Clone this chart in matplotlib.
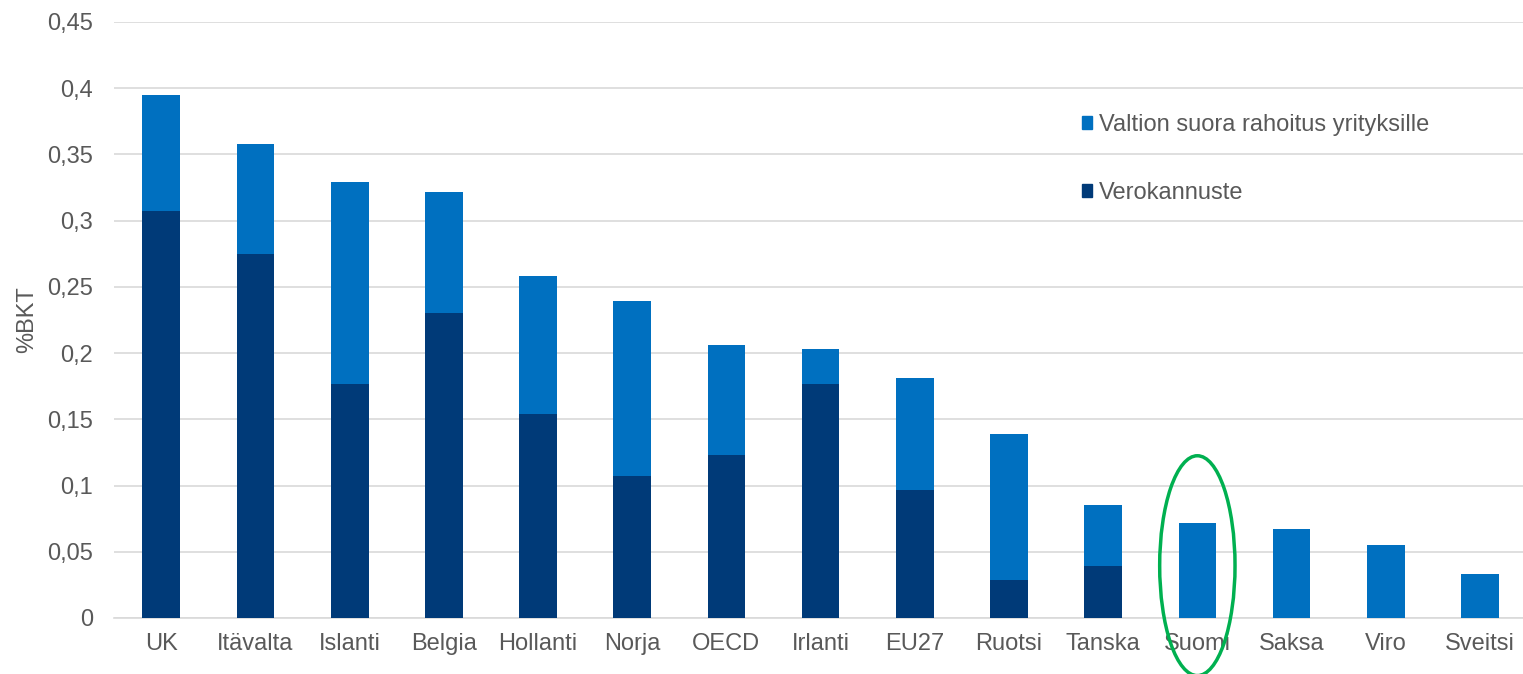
import matplotlib
matplotlib.use("Agg")
import matplotlib.pyplot as plt
from matplotlib.patches import Ellipse, Patch
import numpy as np

plt.rcParams['font.family'] = ['Liberation Sans', 'DejaVu Sans']

categories = ["UK", "Itävalta", "Islanti", "Belgia", "Hollanti", "Norja", "OECD",
              "Irlanti", "EU27", "Ruotsi", "Tanska", "Suomi", "Saksa", "Viro", "Sveitsi"]
verokannuste = [0.307, 0.275, 0.177, 0.230, 0.154, 0.107, 0.123,
                0.177, 0.097, 0.029, 0.039, 0.0, 0.0, 0.0, 0.0]
totals = [0.395, 0.358, 0.329, 0.322, 0.258, 0.239, 0.206,
          0.203, 0.181, 0.139, 0.085, 0.072, 0.067, 0.055, 0.033]
suora = [t - v for t, v in zip(totals, verokannuste)]
yticks = [0, 0.05, 0.1, 0.15, 0.2, 0.25, 0.3, 0.35, 0.4, 0.45]
ytick_labels = ["0", "0,05", "0,1", "0,15", "0,2", "0,25", "0,3", "0,35", "0,4", "0,45"]

light = "#0070C0"
dark = "#003A78"
text_col = "#595959"
grid_col = "#D9D9D9"

fig = plt.figure(figsize=(15.23, 6.74), dpi=100)
ax = fig.add_axes([114.2 / 1523, 1 - 618 / 674, (1527 - 114.2) / 1523, (618 - 22) / 674])

x = np.arange(len(categories))
w = 0.4
ax.bar(x, verokannuste, w, color=dark, zorder=3, label="Verokannuste")
ax.bar(x, suora, w, bottom=verokannuste, color=light, zorder=3,
       label="Valtion suora rahoitus yrityksille")

ax.set_xlim(-0.5, len(categories) - 0.5)
ax.set_ylim(0, 0.45)
ax.set_yticks(yticks)
ax.set_yticklabels(ytick_labels)
ax.set_xticks(x)
ax.set_xticklabels(categories)
ax.tick_params(axis='both', length=0, labelsize=17, colors=text_col)
ax.tick_params(axis='y', pad=15)
ax.tick_params(axis='x', pad=11)
ax.grid(axis='y', color=grid_col, linewidth=1.2, zorder=0)
for s in ['top', 'right', 'left']:
    ax.spines[s].set_visible(False)
ax.spines['bottom'].set_color(grid_col)
ax.spines['bottom'].set_linewidth(1.2)
ax.spines['bottom'].set_zorder(1)

ax.set_ylabel("%BKT", fontsize=17, color=text_col, labelpad=7)

handles = [Patch(color=light), Patch(color=dark)]
labels = ["Valtion suora rahoitus yrityksille", "Verokannuste"]
leg = fig.legend(handles, labels, loc='upper left',
                 bbox_to_anchor=(1082 / 1523, 1 - 114 / 674),
                 frameon=False, fontsize=17, handlelength=0.42, handleheight=0.42,
                 handletextpad=0.3, labelspacing=1.95, borderpad=0, borderaxespad=0)
for t in leg.get_texts():
    t.set_color(text_col)

# highlight ellipse around Suomi
idx = categories.index("Suomi")
ell = Ellipse((idx, 0.0395), width=0.8, height=0.166, fill=False,
              edgecolor="#00B050", linewidth=2.5, clip_on=False, zorder=5)
ax.add_patch(ell)

fig.savefig("out.png", dpi=100)
